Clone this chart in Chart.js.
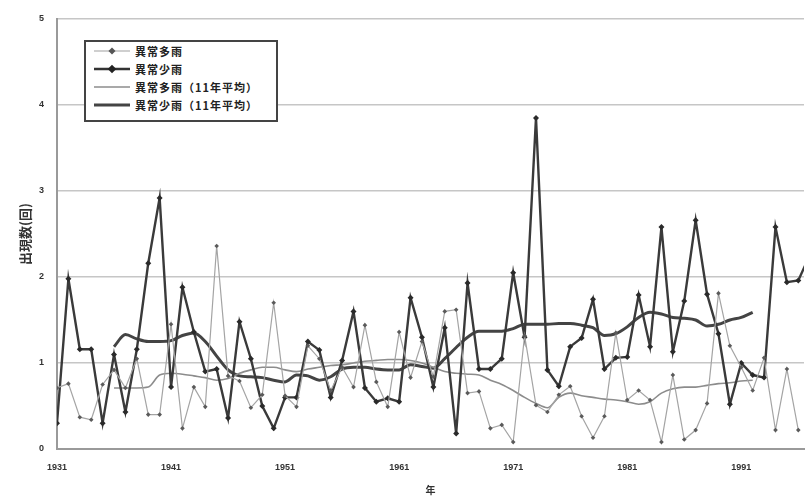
<!DOCTYPE html>
<html>
<head>
<meta charset="utf-8">
<script src="https://cdn.jsdelivr.net/npm/chart.js@4.4.1/dist/chart.umd.min.js"></script>
<style>
  body { margin: 0; background: #fff; }
  #wrap { position: relative; width: 808px; height: 498px; }
  #legend {
    position: absolute; left: 84px; top: 40px; width: 194px; height: 82px;
    box-sizing: border-box; border: 2px solid #444; background: #fff;
    font-family: "Noto Sans CJK JP", sans-serif; font-weight: bold; font-size: 11px; color: #222;
  }
  .row { display: flex; align-items: center; height: 18px; padding-left: 8px; }
  .row svg { margin-right: 5px; }
  .row span { letter-spacing: 1px; }
</style>
</head>
<body>
<div id="wrap">
  <canvas id="c" width="808" height="498"></canvas>
  <div id="legend"></div>
</div>
<script>
// years 1931-1997 (the scan is cut off at the right edge)
let years = [1931,1932,1933,1934,1935,1936,1937,1938,1939,1940,
  1941,1942,1943,1944,1945,1946,1947,1948,1949,1950,
  1951,1952,1953,1954,1955,1956,1957,1958,1959,1960,
  1961,1962,1963,1964,1965,1966,1967,1968,1969,1970,
  1971,1972,1973,1974,1975,1976,1977,1978,1979,1980,
  1981,1982,1983,1984,1985,1986,1987,1988,1989,1990,
  1991,1992,1993,1994,1995,1996,1997];

// 異常多雨
let wet = [0.71,0.76,0.37,0.34,0.75,0.92,0.71,1.05,0.40,0.40,
  1.45,0.24,0.72,0.49,2.36,0.85,0.79,0.48,0.63,1.70,
  0.62,0.49,1.20,1.05,0.68,0.95,0.72,1.44,0.78,0.49,
  1.36,0.83,1.25,0.84,1.60,1.62,0.65,0.67,0.24,0.28,
  0.08,1.32,0.51,0.43,0.63,0.73,0.38,0.13,0.38,1.35,
  0.57,0.68,0.57,0.08,0.86,0.11,0.22,0.53,1.81,1.20,
  0.95,0.68,1.06,0.22,0.93,0.22,null];

// 異常少雨
let dry = [0.30,1.98,1.16,1.16,0.30,1.10,0.43,1.16,2.16,2.92,
  0.72,1.88,1.36,0.90,0.93,0.36,1.48,1.05,0.50,0.24,
  0.60,0.60,1.25,1.15,0.60,1.03,1.60,0.71,0.55,0.59,
  0.55,1.76,1.30,0.72,1.41,0.18,1.93,0.93,0.93,1.05,
  2.05,1.30,3.85,0.92,0.73,1.19,1.29,1.74,0.93,1.06,
  1.07,1.79,1.19,2.58,1.13,1.72,2.66,1.80,1.34,0.52,
  1.00,0.86,0.83,2.58,1.94,1.96,2.25];

// 11年平均 (1936-1992)
let wetAvg = [null,null,null,null,null,0.71,0.71,0.71,0.72,0.86,
  0.88,0.87,0.85,0.83,0.80,0.82,0.88,0.92,0.95,0.95,
  0.92,0.90,0.93,0.95,0.97,0.98,1.00,1.02,1.03,1.04,
  1.04,1.03,1.00,0.95,0.90,0.88,0.87,0.86,0.80,0.75,
  0.68,0.60,0.53,0.48,0.60,0.65,0.62,0.60,0.58,0.57,
  0.55,0.52,0.55,0.65,0.70,0.72,0.72,0.74,0.76,0.77,
  0.79,0.80,null,null,null,null,null];

let dryAvg = [null,null,null,null,null,1.19,1.33,1.28,1.25,1.25,
  1.26,1.32,1.35,1.25,1.08,0.92,0.85,0.84,0.83,0.80,
  0.78,0.86,0.85,0.80,0.84,0.93,0.95,0.95,0.93,0.92,
  0.92,0.98,0.96,0.94,1.05,1.18,1.30,1.37,1.37,1.37,
  1.40,1.45,1.45,1.45,1.46,1.46,1.44,1.41,1.32,1.34,
  1.42,1.53,1.59,1.57,1.53,1.52,1.50,1.43,1.45,1.50,
  1.53,1.59,null,null,null,null,null];

let xTicks = [1931,1941,1951,1961,1971,1981,1991];
let yTicks = [0,1,2,3,4,5];

let seriesNames = ["異常多雨", "異常少雨", "異常多雨（11年平均）", "異常少雨（11年平均）"];

function pts(arr) {
  return years.map((y, i) => ({ x: y, y: arr[i] }));
}

let numFont = { family: "'Liberation Sans', Arial, sans-serif", size: 9, weight: "bold" };

new Chart(document.getElementById("c"), {
  type: "line",
  data: {
    datasets: [
      { label: seriesNames[0], data: pts(wet), borderColor: "#a4a4a4", borderWidth: 1.2,
        pointStyle: "rectRot", pointRadius: 2.3, pointBackgroundColor: "#5a5a5a", pointBorderColor: "#5a5a5a", pointBorderWidth: 0 },
      { label: seriesNames[1], data: pts(dry), borderColor: "#3a3a3a", borderWidth: 2.4,
        pointStyle: "rectRot", pointRadius: 3, pointBackgroundColor: "#2a2a2a", pointBorderColor: "#2a2a2a", pointBorderWidth: 0 },
      { label: seriesNames[2], data: pts(wetAvg), borderColor: "#8c8c8c", borderWidth: 1.6,
        pointRadius: 0, cubicInterpolationMode: "monotone" },
      { label: seriesNames[3], data: pts(dryAvg), borderColor: "#444", borderWidth: 3,
        pointRadius: 0, cubicInterpolationMode: "monotone" }
    ]
  },
  options: {
    responsive: false,
    animation: false,
    layout: { padding: { top: 19, right: 0, bottom: 0, left: 0 } },
    plugins: { legend: { display: false }, tooltip: { enabled: false } },
    scales: {
      x: {
        type: "linear", min: 1931, max: 1996.5,
        afterBuildTicks: s => { s.ticks = xTicks.map(v => ({ value: v })); },
        afterFit: s => { s.height = 49; },
        grid: { display: false, drawTicks: false },
        border: { display: true, color: "#9a9a9a", width: 2 },
        ticks: { padding: 13, color: "#333", font: numFont, maxRotation: 0, callback: v => String(v) },
        title: { display: true, text: "年", color: "#333", padding: { top: 0, bottom: 2 },
          font: { family: "'Noto Sans CJK JP'", size: 10, weight: "bold" } }
      },
      y: {
        min: 0, max: 5,
        afterBuildTicks: s => { s.ticks = yTicks.map(v => ({ value: v })); },
        afterFit: s => { s.width = 57; },
        grid: { color: "#c6c6c6", lineWidth: 1.5, drawTicks: false },
        border: { display: true, color: "#9a9a9a", width: 2 },
        ticks: { padding: 13, color: "#333", font: numFont },
        title: { display: true, text: "出現数(回)", color: "#333", padding: { top: 17, bottom: 0 },
          font: { family: "'Noto Sans CJK JP'", size: 13, weight: "bold" } }
      }
    }
  }
});

// legend as html, samples drawn in small svgs
let samples = [
  '<line x1="0" y1="5" x2="36" y2="5" stroke="#a0a0a0" stroke-width="1.2"/><rect x="15.5" y="2.5" width="5" height="5" fill="#555" transform="rotate(45 18 5)"/>',
  '<line x1="0" y1="5" x2="36" y2="5" stroke="#333" stroke-width="2.4"/><rect x="15" y="2" width="6" height="6" fill="#222" transform="rotate(45 18 5)"/>',
  '<line x1="0" y1="5" x2="36" y2="5" stroke="#8c8c8c" stroke-width="1.6"/>',
  '<line x1="0" y1="5" x2="36" y2="5" stroke="#444" stroke-width="3"/>'
];
let legend = document.getElementById("legend");
seriesNames.forEach((name, i) => {
  let row = document.createElement("div");
  row.className = "row";
  row.innerHTML = '<svg width="36" height="10">' + samples[i] + '</svg><span>' + name + '</span>';
  legend.appendChild(row);
});
</script>
</body>
</html>
